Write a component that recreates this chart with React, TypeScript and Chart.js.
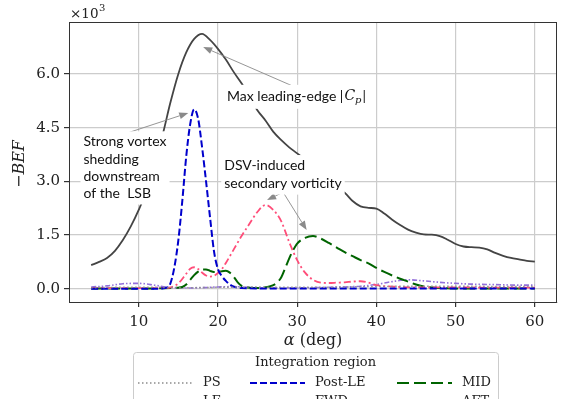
import React, { useEffect, useRef } from "react";
import { Chart, registerables } from "chart.js";
Chart.register(...registerables);

// ---------- data ----------
const xTicks = [10, 20, 30, 40, 50, 60];
const yTicks = [0, 1.5, 3, 4.5, 6];

const alphaPS = [4, 8, 12, 16, 20, 24, 28, 32, 36, 40, 44, 48, 52, 56, 60];
const valuesPS = [0.03, 0.04, 0.04, 0.03, 0.04, 0.05, 0.04, 0.04, 0.05, 0.06, 0.07, 0.07, 0.07, 0.06, 0.06];

const alphaLE = [4, 5, 6, 7, 8, 9, 10, 11, 12, 13, 14, 15, 16, 17, 18, 19, 20, 21, 22, 23, 24, 25, 26, 27, 28, 29, 30, 31, 32, 33, 34, 35, 36, 37, 38, 39, 40, 41, 42, 43, 44, 45, 46, 47, 48, 49, 50, 51, 52, 53, 54, 55, 56, 57, 58, 59, 60];
const valuesLE = [0.66, 0.75, 0.86, 1.06, 1.36, 1.74, 2.2, 2.75, 3.5, 4.28, 5.2, 6.0, 6.6, 6.98, 7.12, 6.95, 6.7, 6.4, 6.05, 5.73, 5.35, 4.98, 4.7, 4.38, 4.15, 3.95, 3.78, 3.6, 3.38, 3.15, 2.95, 2.8, 2.68, 2.45, 2.3, 2.26, 2.24, 2.1, 1.93, 1.78, 1.65, 1.57, 1.52, 1.51, 1.47, 1.37, 1.25, 1.18, 1.16, 1.15, 1.1, 1.0, 0.92, 0.86, 0.82, 0.78, 0.76];

const alphaPostLE = [4, 8, 12, 13, 13.5, 14, 14.5, 15, 15.5, 16, 16.5, 17, 17.5, 18, 18.5, 19, 19.5, 20, 20.5, 21, 21.5, 22, 23, 26, 30, 35, 40, 45, 50, 55, 60];
const valuesPostLE = [0, 0, 0, 0.01, 0.03, 0.15, 0.6, 1.35, 2.45, 3.7, 4.6, 5.01, 4.75, 3.95, 3.0, 2.0, 1.05, 0.55, 0.35, 0.22, 0.12, 0.06, 0.02, 0.01, 0.01, 0.01, 0.01, 0.01, 0.01, 0.01, 0.01];

const alphaFWD = [4, 8, 12, 13, 14, 15, 16, 16.5, 17, 17.5, 18, 18.5, 19, 19.5, 20, 20.5, 21, 22, 23, 24, 25, 26, 27, 28, 29, 30, 31, 32, 33, 34, 35, 36, 37, 38, 39, 40, 42, 45, 50, 55, 60];
const valuesFWD = [0.02, 0.02, 0.02, 0.02, 0.04, 0.15, 0.42, 0.56, 0.6, 0.55, 0.45, 0.37, 0.34, 0.36, 0.44, 0.55, 0.72, 1.1, 1.48, 1.82, 2.15, 2.34, 2.2, 1.88, 1.3, 0.8, 0.45, 0.25, 0.17, 0.16, 0.17, 0.18, 0.2, 0.21, 0.17, 0.1, 0.06, 0.04, 0.04, 0.03, 0.03];

const alphaMID = [4, 8, 12, 14, 15, 15.5, 16, 16.5, 17, 17.5, 18, 18.5, 19, 19.5, 20, 20.5, 21, 21.5, 22, 22.5, 23, 24, 25, 26, 27, 27.5, 28, 28.5, 29, 29.5, 30, 31, 32, 33, 34, 35, 36, 37, 38, 39, 40, 41, 42, 43, 44, 45, 46, 48, 50, 55, 60];
const valuesMID = [0.01, 0.01, 0.01, 0.02, 0.03, 0.05, 0.12, 0.25, 0.38, 0.48, 0.54, 0.54, 0.5, 0.47, 0.47, 0.49, 0.5, 0.45, 0.33, 0.18, 0.08, 0.03, 0.02, 0.04, 0.1, 0.18, 0.32, 0.58, 0.85, 1.08, 1.26, 1.42, 1.47, 1.4, 1.28, 1.15, 1.02, 0.91, 0.8, 0.71, 0.58, 0.47, 0.37, 0.28, 0.2, 0.12, 0.06, 0.02, 0.01, 0.01, 0.01];

const alphaAFT = [4, 6, 8, 10, 12, 14, 16, 18, 20, 22, 24, 26, 28, 30, 32, 34, 36, 38, 40, 42, 44, 46, 48, 50, 52, 54, 56, 58, 60];
const valuesAFT = [0.05, 0.08, 0.14, 0.15, 0.1, 0.03, 0.02, 0.03, 0.05, 0.06, 0.04, 0.02, 0.02, 0.02, 0.03, 0.04, 0.05, 0.07, 0.12, 0.2, 0.25, 0.22, 0.18, 0.15, 0.13, 0.12, 0.11, 0.1, 0.1];

// ---------- styles ----------
const series = [
  { label: "PS", xs: alphaPS, ys: valuesPS, color: "#8c8c8c", dash: [1.5, 2.5], width: 1.5 },
  { label: "LE", xs: alphaLE, ys: valuesLE, color: "#444444", dash: [], width: 1.8 },
  { label: "Post-LE", xs: alphaPostLE, ys: valuesPostLE, color: "#0000cc", dash: [7, 3], width: 2 },
  { label: "FWD", xs: alphaFWD, ys: valuesFWD, color: "#ff4d79", dash: [7, 3, 2, 3], width: 1.8 },
  { label: "MID", xs: alphaMID, ys: valuesMID, color: "#006400", dash: [12, 5], width: 2 },
  { label: "AFT", xs: alphaAFT, ys: valuesAFT, color: "#9370db", dash: [5, 2, 1.5, 2, 1.5, 2], width: 1.6 },
];

const SERIF = "'DejaVu Serif', serif";
const SANS = "Lato, 'Open Sans', sans-serif";

function drawArrow(ctx: CanvasRenderingContext2D, x1: number, y1: number, x2: number, y2: number) {
  const ang = Math.atan2(y2 - y1, x2 - x1);
  const hl = 9, hw = 3.5;
  const bx = x2 - hl * Math.cos(ang), by = y2 - hl * Math.sin(ang);
  ctx.save();
  ctx.strokeStyle = "#8a8a8a";
  ctx.fillStyle = "#8a8a8a";
  ctx.lineWidth = 0.9;
  ctx.setLineDash([]);
  ctx.beginPath();
  ctx.moveTo(x1, y1);
  ctx.lineTo(bx, by);
  ctx.stroke();
  ctx.beginPath();
  ctx.moveTo(x2, y2);
  ctx.lineTo(bx + hw * Math.sin(ang), by - hw * Math.cos(ang));
  ctx.lineTo(bx - hw * Math.sin(ang), by + hw * Math.cos(ang));
  ctx.closePath();
  ctx.fill();
  ctx.restore();
}

const overlay = {
  id: "overlay",
  afterDraw(chart: any) {
    const { ctx, chartArea: a } = chart;
    const xs = chart.scales.x, ys = chart.scales.y;
    const px = (v: number) => xs.getPixelForValue(v);
    const py = (v: number) => ys.getPixelForValue(v);
    ctx.save();
    // spines top/right
    ctx.strokeStyle = "#333";
    ctx.lineWidth = 1;
    ctx.setLineDash([]);
    ctx.beginPath();
    ctx.moveTo(a.left, a.top + 0.5);
    ctx.lineTo(a.right, a.top + 0.5);
    ctx.moveTo(a.right - 0.5, a.top);
    ctx.lineTo(a.right - 0.5, a.bottom);
    ctx.stroke();

    // arrows
    drawArrow(ctx, px(29.97), py(5.61), px(18.14), py(6.75));
    drawArrow(ctx, px(8.56), py(4.35), px(16.25), py(4.91));
    drawArrow(ctx, px(28.0), py(2.67), px(26.2), py(2.48));
    drawArrow(ctx, px(28.3), py(2.67), px(31.2), py(1.64));

    // text boxes
    ctx.font = `14px ${SANS}`;
    ctx.textBaseline = "middle";
    ctx.textAlign = "left";
    const box = (lines: string[], x0: number, y0: number, lh: number, extraW = 0) => {
      let w = 0;
      lines.forEach((l) => (w = Math.max(w, ctx.measureText(l).width)));
      w += extraW;
      ctx.fillStyle = "#fff";
      ctx.fillRect(x0 - 3, y0 - lh / 2 - 2, w + 6, lh * lines.length + 4);
      ctx.fillStyle = "#111";
      lines.forEach((l, i) => ctx.fillText(l, x0, y0 + i * lh));
    };
    // Max leading-edge |Cp|
    const t1 = "Max leading-edge |";
    const bx1 = px(21.15), by1 = py(5.36);
    box([t1], bx1, by1, 20, 17);
    let cx = bx1 + ctx.measureText(t1).width + 1;
    ctx.font = `italic 14px ${SERIF}`;
    ctx.fillText("C", cx, by1);
    cx += ctx.measureText("C").width;
    ctx.font = `italic 10px ${SERIF}`;
    ctx.fillText("p", cx, by1 + 4);
    cx += ctx.measureText("p").width + 1;
    ctx.font = `14px ${SANS}`;
    ctx.fillText("|", cx, by1);

    box(["Strong vortex", "shedding", "downstream", "of the  LSB"], px(3.03), py(4.1), 17.3);
    box(["DSV-induced", "secondary vorticity"], px(20.8), py(3.43), 17.8);

    // offset text
    ctx.fillStyle = "#222";
    ctx.textBaseline = "alphabetic";
    ctx.font = `13.5px ${SERIF}`;
    ctx.fillText("×10", a.left + 1, 17.5);
    const ow = ctx.measureText("×10").width;
    ctx.font = `10px ${SERIF}`;
    ctx.fillText("3", a.left + 1 + ow + 0.5, 11);

    // axis titles
    ctx.textBaseline = "middle";
    const xl1 = "α";
    ctx.font = `italic 16px ${SERIF}`;
    const w1 = ctx.measureText(xl1).width;
    ctx.font = `16px ${SERIF}`;
    const w2 = ctx.measureText(" (deg)").width;
    const xc = (a.left + a.right) / 2;
    const sx = xc - (w1 + w2) / 2;
    ctx.font = `italic 16px ${SERIF}`;
    ctx.fillText(xl1, sx, 341);
    ctx.font = `16px ${SERIF}`;
    ctx.fillText(" (deg)", sx + w1, 341);

    ctx.save();
    ctx.translate(20, 164);
    ctx.rotate(-Math.PI / 2);
    ctx.textAlign = "center";
    ctx.font = `italic 16px ${SERIF}`;
    ctx.fillText("−BEF", 0, 0);
    ctx.restore();

    // legend
    const L = 133, T = 352, R = 498, B = 440;
    ctx.fillStyle = "rgba(255,255,255,0.85)";
    ctx.strokeStyle = "#cccccc";
    ctx.lineWidth = 1;
    ctx.beginPath();
    (ctx as any).roundRect(L + 0.5, T + 0.5, R - L, B - T, 3);
    ctx.fill();
    ctx.stroke();
    ctx.fillStyle = "#222";
    ctx.font = `13px ${SERIF}`;
    ctx.textAlign = "center";
    ctx.fillText("Integration region", (L + R) / 2, 363);
    ctx.textAlign = "left";
    const colX = [138, 250, 397];
    const rowY = [383, 402];
    series.forEach((s, i) => {
      const c = Math.floor(i / 2), r = i % 2;
      const x0 = colX[c], y0 = rowY[r];
      ctx.strokeStyle = s.color;
      ctx.lineWidth = s.width;
      ctx.setLineDash(s.dash);
      ctx.beginPath();
      ctx.moveTo(x0, y0);
      ctx.lineTo(x0 + 55, y0);
      ctx.stroke();
      ctx.setLineDash([]);
      ctx.fillStyle = "#222";
      ctx.fillText(s.label, x0 + 65, y0);
    });
    ctx.restore();
  },
};

export default function App() {
  const ref = useRef<HTMLCanvasElement | null>(null);
  useEffect(() => {
    if (!ref.current) return;
    const chart = new Chart(ref.current, {
      type: "line",
      data: {
        datasets: series.map((s) => ({
          label: s.label,
          data: s.xs.map((x, i) => ({ x, y: s.ys[i] })),
          borderColor: s.color,
          borderWidth: s.width,
          borderDash: s.dash,
          pointRadius: 0,
          fill: false,
          cubicInterpolationMode: "monotone" as const,
        })),
      },
      options: {
        animation: false,
        responsive: false,
        devicePixelRatio: 1,
        layout: { padding: { left: 0, top: 22, right: 17, bottom: 0 } },
        plugins: { legend: { display: false }, tooltip: { enabled: false } },
        scales: {
          x: {
            type: "linear",
            min: 1.2,
            max: 62.8,
            afterBuildTicks: (s: any) => {
              s.ticks = xTicks.map((v) => ({ value: v }));
            },
            afterFit: (s: any) => {
              s.height = 97;
            },
            grid: { color: "#cccccc", lineWidth: 1.2, tickLength: 5, tickColor: "#333", drawTicks: true },
            border: { color: "#333", width: 1 },
            ticks: {
              font: { family: SERIF, size: 15 },
              color: "#222",
              padding: 6,
              maxRotation: 0,
              autoSkip: false,
              callback: (v: any) => String(v),
            },
          },
          y: {
            type: "linear",
            min: -0.37,
            max: 7.45,
            afterBuildTicks: (s: any) => {
              s.ticks = yTicks.map((v) => ({ value: v }));
            },
            afterFit: (s: any) => {
              s.width = 69;
            },
            grid: { color: "#cccccc", lineWidth: 1.2, tickLength: 5, tickColor: "#333", drawTicks: true },
            border: { color: "#333", width: 1 },
            ticks: {
              font: { family: SERIF, size: 15 },
              color: "#222",
              padding: 4,
              autoSkip: false,
              callback: (v: any) => Number(v).toFixed(1),
            },
          },
        },
      },
      plugins: [overlay],
    });
    return () => chart.destroy();
  }, []);
  return (
    <div style={{ position: "fixed", left: 0, top: 0, width: 574, height: 399, background: "#fff" }}>
      <canvas ref={ref} width={574} height={399} style={{ display: "block" }} />
    </div>
  );
}
